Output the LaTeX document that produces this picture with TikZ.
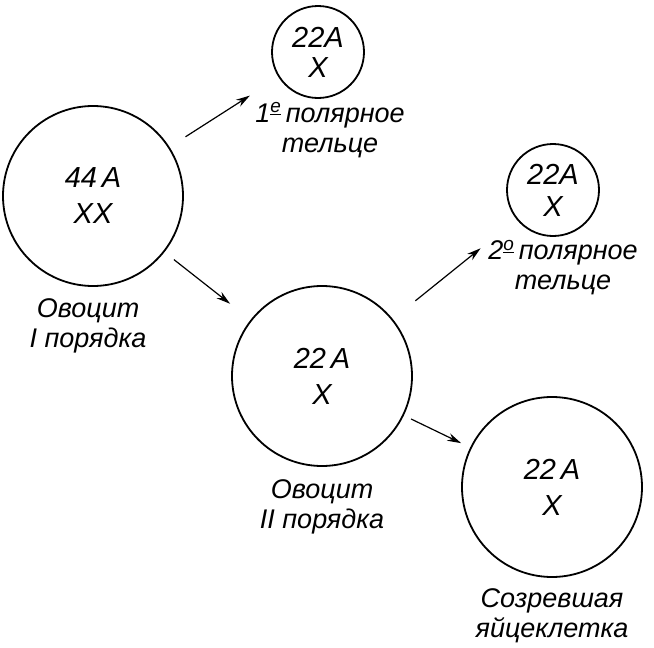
\documentclass[tikz,border=0pt]{standalone}
\usepackage{fontspec}
\setmainfont{Liberation Sans}
\usetikzlibrary{positioning,arrows.meta}

\begin{document}
\begin{tikzpicture}[x=1pt, y=-1pt, line width=1.8pt]
    \tikzstyle{cell}=[circle, draw, inner sep=0pt, align=center, font=\fontsize{29}{30}\selectfont\itshape]
    \tikzstyle{big cell}=[cell, minimum size=180pt]
    \tikzstyle{small cell}=[cell, minimum size=92pt]
    \tikzstyle{annot}=[align=center, inner sep=0pt, font=\fontsize{27}{30}\selectfont\itshape]
    \tikzstyle{division}=[-{Stealth[length=14pt,width=8pt]}, line width=1.2pt]

    \useasboundingbox (0,0) rectangle (654,648);

    % cells
    \node[big cell] (O1) at (93,196) {44\,A\\[6pt]XX};
    \node[small cell] (P1) at (318,52) {22A\\X};
    \node[big cell] (O2) at (322,376) {22\,A\\[6pt]X};
    \node[small cell] (P2) at (553,190) {22A\\[2pt]X};
    \node[big cell] (E) at (552,487) {22\,A\\[6pt]X};

    % names
    \node[annot, below=11pt of O1, xshift=-5pt] (O1-lab) {Овоцит\\I порядка};
    \node[annot, below=3pt of P1, xshift=12pt] (P1-lab) {1\textsuperscript{\underline{е}}\,полярное\\тельце};
    \node[annot, below=12pt of O2, xshift=0pt] (O2-lab) {Овоцит\\II порядка};
    \node[annot, below=3pt of P2, xshift=10pt] (P2-lab) {2\textsuperscript{\underline{о}}\,полярное\\тельце};
    \node[annot, below=10pt of E, xshift=0pt] (E-lab) {Созревшая\\яйцеклетка};

    % divisions
    \draw[division, shorten <=19pt, shorten >=34pt] (O1) -- (P1);
    \draw[division, shorten <=12pt, shorten >=26pt] (O1) -- (O2);
    \draw[division, shorten <=29pt, shorten >=46pt] (O2) -- (P2);
    \draw[division, shorten <=8pt, shorten >=10pt] (O2) -- (E);
\end{tikzpicture}
\end{document}
